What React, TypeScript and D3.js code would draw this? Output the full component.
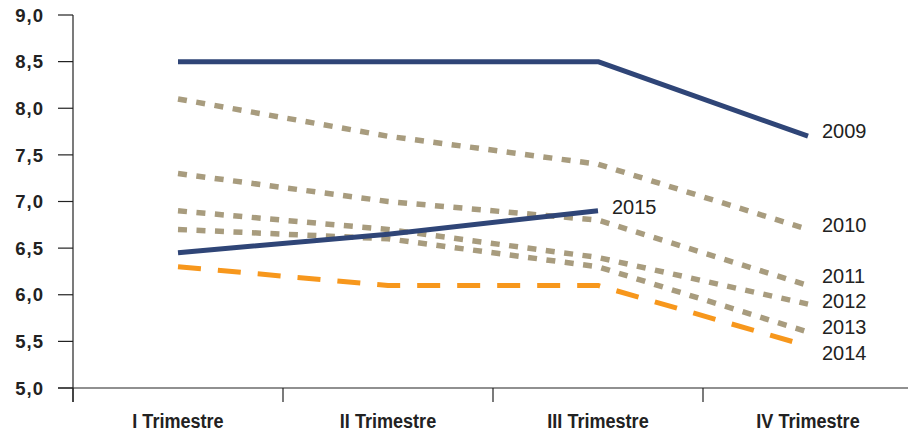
import React from "react";
import * as d3 from "d3";

const categories = ["I Trimestre", "II Trimestre", "III Trimestre", "IV Trimestre"];
const yTicks = [5.0, 5.5, 6.0, 6.5, 7.0, 7.5, 8.0, 8.5, 9.0];

const s2009 = [8.5, 8.5, 8.5, 7.7];
const s2010 = [8.1, 7.7, 7.4, 6.7];
const s2011 = [7.3, 7.0, 6.8, 6.1];
const s2012 = [6.9, 6.7, 6.4, 5.9];
const s2013 = [6.7, 6.6, 6.3, 5.6];
const s2014 = [6.3, 6.1, 6.1, 5.45];
const s2015 = [6.45, 6.65, 6.9, null];

const seriesNames = ["2009", "2010", "2011", "2012", "2013", "2014", "2015"];
const seriesValues = [s2009, s2010, s2011, s2012, s2013, s2014, s2015];
const seriesKind = ["solid", "dot", "dot", "dot", "dot", "dash", "solid"];
// label vertical nudges (px) to avoid overlaps
const labelNudge = [-5, -4, -9, -3, -5, 7, -4];

const W = 908;
const H = 434;
const margin = { left: 73, right: 0, top: 15, bottom: 46 };

const NAVY = "#2f4577";
const TAN = "#a89c7e";
const ORANGE = "#f7971c";

export default function App() {
  const x = d3
    .scaleBand<string>()
    .domain(categories)
    .range([margin.left, margin.left + 210 * 4])
    .padding(0);
  const y = d3.scaleLinear().domain([5, 9]).range([H - margin.bottom - 0, margin.top]);
  const bottom = y(5);

  const line = d3
    .line<number | null>()
    .defined((d) => d != null)
    .x((_, i) => (x(categories[i]) as number) + x.bandwidth() / 2)
    .y((d) => y(d as number));

  const styleFor = (k: string) => {
    if (k === "solid") return { stroke: NAVY, strokeWidth: 5, dash: undefined };
    if (k === "dot") return { stroke: TAN, strokeWidth: 5.5, dash: "9,9.5" };
    return { stroke: ORANGE, strokeWidth: 5, dash: "23,17" };
  };

  return (
    <svg
      width={W}
      height={H}
      style={{ position: "absolute", left: 0, top: 0, background: "#fff" }}
      fontFamily="'Liberation Sans', Arial, sans-serif"
    >
      {/* y axis */}
      <line x1={margin.left} x2={margin.left} y1={y(9)} y2={bottom + 14} stroke="#222" strokeWidth={1.2} />
      {yTicks.map((t) => (
        <g key={t}>
          <line x1={58} x2={margin.left} y1={y(t)} y2={y(t)} stroke="#222" strokeWidth={1.2} />
          <text
            x={44}
            y={y(t)}
            dy="0.36em"
            textAnchor="end"
            fontWeight="bold"
            fontSize={18.5}
            letterSpacing={1}
            fill="#222"
          >
            {d3.format(".1f")(t).replace(".", ",")}
          </text>
        </g>
      ))}
      {/* x axis */}
      <line x1={58} x2={W} y1={bottom} y2={bottom} stroke="#222" strokeWidth={1.2} />
      {categories.map((c) => {
        const cx = (x(c) as number) + x.bandwidth() / 2;
        return (
          <g key={c}>
            <line
              x1={x(c) as number}
              x2={x(c) as number}
              y1={bottom}
              y2={bottom + 14}
              stroke="#222"
              strokeWidth={1.2}
            />
            <text
              transform={`translate(${cx},428) scale(0.86,1)`}
              textAnchor="middle"
              fontWeight="bold"
              fontSize={21}
              fill="#222"
            >
              {c}
            </text>
          </g>
        );
      })}
      {/* series, draw dotted first, then dashed, then solid */}
      {[1, 2, 3, 4, 5, 0, 6].map((i) => {
        const st = styleFor(seriesKind[i]);
        return (
          <path
            key={seriesNames[i]}
            d={line(seriesValues[i] as (number | null)[]) || ""}
            fill="none"
            stroke={st.stroke}
            strokeWidth={st.strokeWidth}
            strokeDasharray={st.dash}
            strokeLinejoin="round"
          />
        );
      })}
      {/* labels */}
      {seriesNames.map((n, i) => {
        const vals = seriesValues[i];
        let last = vals.length - 1;
        while (vals[last] == null) last--;
        const px = (x(categories[last]) as number) + x.bandwidth() / 2;
        return (
          <text
            key={n}
            x={px + 14}
            y={y(vals[last] as number) + labelNudge[i]}
            dy="0.35em"
            fontSize={20}
            fill="#222"
          >
            {n}
          </text>
        );
      })}
    </svg>
  );
}
